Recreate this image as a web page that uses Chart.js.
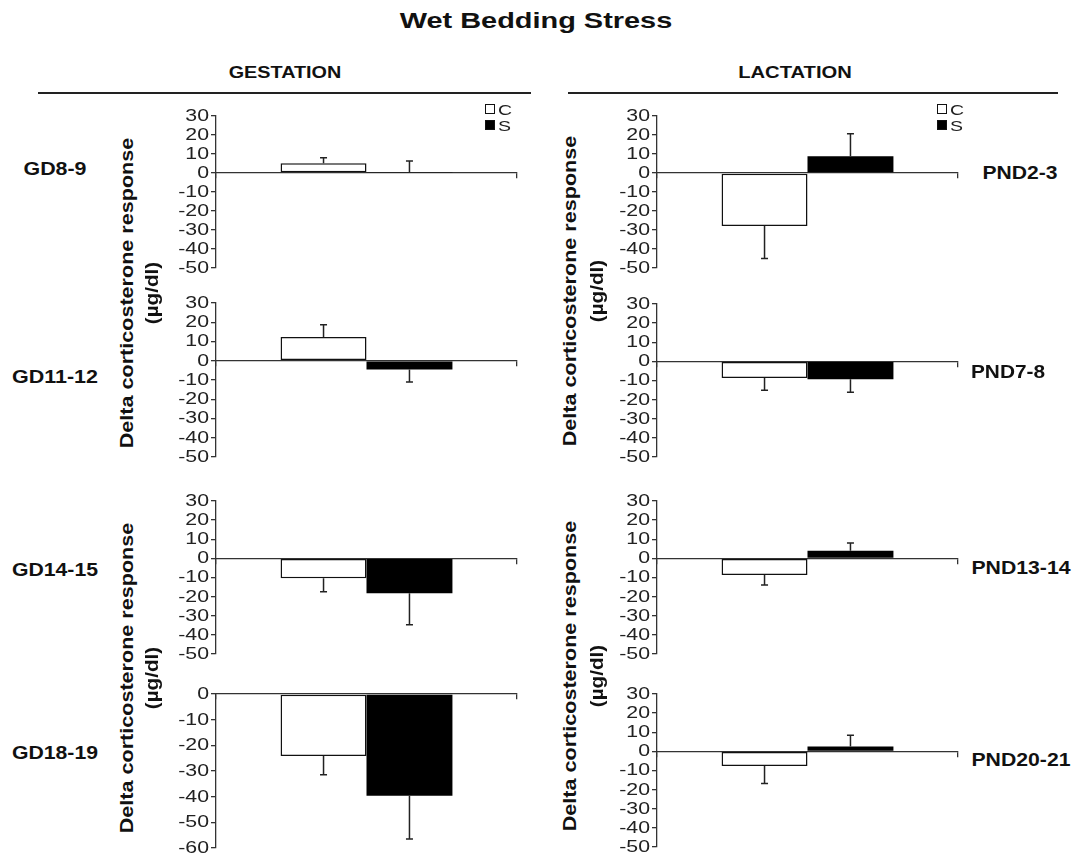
<!DOCTYPE html>
<html>
<head>
<meta charset="utf-8">
<title>Wet Bedding Stress</title>
<script src="https://cdn.jsdelivr.net/npm/chart.js@4.4.1/dist/chart.umd.min.js"></script>
<style>
  html, body { margin: 0; padding: 0; background: #fff; }
  body { width: 1073px; height: 855px; position: relative; overflow: hidden;
         font-family: 'Liberation Sans', Arial, sans-serif; color: #111; }
  .txt { position: absolute; white-space: nowrap; font-weight: bold; line-height: 1; }
  .rule { position: absolute; height: 2px; background: #222; }
  .panel { position: absolute; }
  .legend { position: absolute; font-family: 'Liberation Sans', Arial, sans-serif; font-size: 15px; line-height: 1; color: #222; }
  .legend div { display: flex; align-items: center; height: 16px; }
  .legend span.box { display: inline-block; width: 10px; height: 10px; border: 1.5px solid #111;
                     box-sizing: border-box; margin-right: 3px; }
  .legend span.lab { display: inline-block; transform: scaleX(1.3); transform-origin: 0 50%; }
</style>
</head>
<body>

<script>
// data (delta corticosterone, ug/dl)
const seriesNames = ['C', 'S'];

const gestationPeriods = ['GD8-9', 'GD11-12', 'GD14-15', 'GD18-19'];
const gestationControl = [5.1, 12.3, -10.4, -24.2];
const gestationControlErr = [2.9, 6.4, 7.0, 7.3];
const gestationStress = [0.5, -4.6, -18.2, -39.6];
const gestationStressErr = [5.8, 6.4, 16.5, 16.9];
const gestationYMin = [-50, -50, -50, -60];
const gestationYMax = [30, 30, 30, 0];

const lactationPeriods = ['PND2-3', 'PND7-8', 'PND13-14', 'PND20-21'];
const lactationControl = [-27.9, -8.7, -8.7, -7.6];
const lactationControlErr = [17.1, 6.4, 5.2, 9.2];
const lactationStress = [8.8, -9.4, 4.0, 2.6];
const lactationStressErr = [11.9, 6.8, 4.1, 5.8];
const lactationYMin = [-50, -50, -50, -50];
const lactationYMax = [30, 30, 30, 30];

const yStep = 10;

// place a text centred on (cx, cy), stretched to a given width
function addText(str, cx, cy, size, width, rotate) {
    const el = document.createElement('div');
    el.className = 'txt';
    el.textContent = str;
    el.style.fontSize = size + 'px';
    document.body.appendChild(el);
    const sx = width ? width / el.offsetWidth : 1;
    el.style.left = cx + 'px';
    el.style.top = cy + 'px';
    el.style.transform = 'translate(-50%, -50%) rotate(' + (rotate || 0) + 'deg) scaleX(' + sx + ')';
    return el;
}

function addTextLeft(str, left, cy, size, width) {
    addText(str, left + width / 2, cy, size, width, 0);
}

function addRule(x1, x2, y) {
    const el = document.createElement('div');
    el.className = 'rule';
    el.style.left = x1 + 'px';
    el.style.width = (x2 - x1) + 'px';
    el.style.top = y + 'px';
    document.body.appendChild(el);
}

function addLegend(left, top) {
    const box = document.createElement('div');
    box.className = 'legend';
    box.style.left = left + 'px';
    box.style.top = top + 'px';
    seriesNames.forEach((name, i) => {
        const row = document.createElement('div');
        const sw = document.createElement('span');
        sw.className = 'box';
        sw.style.background = i === 0 ? '#fff' : '#000';
        const lab = document.createElement('span');
        lab.className = 'lab';
        lab.textContent = name;
        row.appendChild(sw);
        row.appendChild(lab);
        box.appendChild(row);
    });
    document.body.appendChild(box);
}

// vertical error bars, only on the side the bar points to
const errorBars = {
    id: 'errorBars',
    afterDatasetsDraw(chart) {
        const ctx = chart.ctx;
        const yScale = chart.scales.y;
        chart.data.datasets.forEach((ds, i) => {
            const meta = chart.getDatasetMeta(i);
            meta.data.forEach((bar, j) => {
                const v = ds.data[j];
                const e = ds.errors[j];
                const end = yScale.getPixelForValue(v < 0 ? v - e : v + e);
                ctx.save();
                ctx.strokeStyle = '#222';
                ctx.lineWidth = 1.5;
                ctx.beginPath();
                ctx.moveTo(bar.x, bar.y);
                ctx.lineTo(bar.x, end);
                ctx.moveTo(bar.x - 3.5, end);
                ctx.lineTo(bar.x + 3.5, end);
                ctx.stroke();
                ctx.restore();
            });
        });
    }
};

// y tick labels, drawn a little wider like the printed figure
const wideTicks = {
    id: 'wideTicks',
    afterDraw(chart) {
        const s = chart.scales.y;
        const ctx = chart.ctx;
        ctx.save();
        ctx.font = '16px "Liberation Sans", Arial, sans-serif';
        ctx.fillStyle = '#222';
        ctx.textAlign = 'right';
        ctx.textBaseline = 'middle';
        s.ticks.forEach(t => {
            ctx.save();
            ctx.translate(s.right - 7, s.getPixelForValue(t.value) + 0.5);
            ctx.scale(1.33, 1);
            ctx.fillText(String(t.value), 0, 0);
            ctx.restore();
        });
        ctx.restore();
    }
};

function makePanel(left, areaTop, areaBottom, yMin, yMax, ctrl, ctrlErr, stress, stressErr) {
    const W = 380;
    const H = areaBottom - areaTop + 20;
    const wrap = document.createElement('div');
    wrap.className = 'panel';
    wrap.style.left = left + 'px';
    wrap.style.top = (areaTop - 10) + 'px';
    const canvas = document.createElement('canvas');
    canvas.width = W;
    canvas.height = H;
    wrap.appendChild(canvas);
    document.body.appendChild(wrap);

    new Chart(canvas.getContext('2d'), {
        type: 'bar',
        data: {
            labels: [''],
            datasets: [{
                label: seriesNames[0],
                data: [ctrl],
                errors: [ctrlErr],
                backgroundColor: '#fff',
                borderColor: '#111',
                borderWidth: 1.5,
                borderSkipped: false
            }, {
                label: seriesNames[1],
                data: [stress],
                errors: [stressErr],
                backgroundColor: '#000',
                borderColor: '#000',
                borderWidth: 0
            }]
        },
        options: {
            responsive: false,
            animation: false,
            categoryPercentage: 0.571,
            barPercentage: 1.0,
            layout: { padding: { top: 10, bottom: 10, left: 0, right: 13 } },
            plugins: {
                legend: { display: false },
                tooltip: { enabled: false }
            },
            scales: {
                x: {
                    type: 'category',
                    position: { y: 0 },
                    offset: true,
                    grid: { offset: true, drawOnChartArea: false, drawTicks: true, tickLength: 5,
                            color: '#333', lineWidth: 1.3 },
                    border: { display: true, color: '#333', width: 1.3 },
                    ticks: { display: false }
                },
                y: {
                    min: yMin,
                    max: yMax,
                    afterFit(scale) { scale.width = 66; },
                    ticks: { stepSize: yStep, autoSkip: false, display: false },
                    grid: { drawOnChartArea: false, drawTicks: true, tickLength: 5,
                            color: '#333', lineWidth: 1.3 },
                    border: { display: true, color: '#333', width: 1.3 }
                }
            }
        },
        plugins: [errorBars, wideTicks]
    });
}

// headings
addText('Wet Bedding Stress', 536, 21, 22, 272, 0);
addText('GESTATION', 284.5, 72, 17, 113, 0);
addText('LACTATION', 795, 72, 17, 114, 0);
addRule(38, 531, 92);
addRule(568, 1058, 92);

// panel areas (top, bottom of the plotting area)
const gestationAreas = [[116, 268], [303, 457], [501, 654], [694, 848]];
const lactationAreas = [[116, 268], [304, 457], [501, 654], [694, 847]];

gestationPeriods.forEach((p, i) => {
    makePanel(150, gestationAreas[i][0], gestationAreas[i][1], gestationYMin[i], gestationYMax[i],
        gestationControl[i], gestationControlErr[i], gestationStress[i], gestationStressErr[i]);
});
lactationPeriods.forEach((p, i) => {
    makePanel(591, lactationAreas[i][0], lactationAreas[i][1], lactationYMin[i], lactationYMax[i],
        lactationControl[i], lactationControlErr[i], lactationStress[i], lactationStressErr[i]);
});

// row labels
const gestationLabelPos = [[54.5, 169, 63], [55, 377, 86], [55, 570, 86], [55, 753, 86]];
gestationPeriods.forEach((p, i) => {
    addText(p, gestationLabelPos[i][0], gestationLabelPos[i][1], 18, gestationLabelPos[i][2], 0);
});
const lactationLabelPos = [[982, 173, 75], [971, 372, 74], [971, 568, 99], [971, 760, 99]];
lactationPeriods.forEach((p, i) => {
    addTextLeft(p, lactationLabelPos[i][0], lactationLabelPos[i][1], 18, lactationLabelPos[i][2]);
});

// shared y titles
[[126, 151, 293], [126, 151, 678], [569, 596, 291], [569, 596, 676]].forEach(t => {
    addText('Delta corticosterone response', t[0], t[2], 19, 310, -90);
    addText('(\u00b5g/dl)', t[1], t[2], 19, 62, -90);
});

addLegend(485, 101);
addLegend(937, 101);
</script>
</body>
</html>
